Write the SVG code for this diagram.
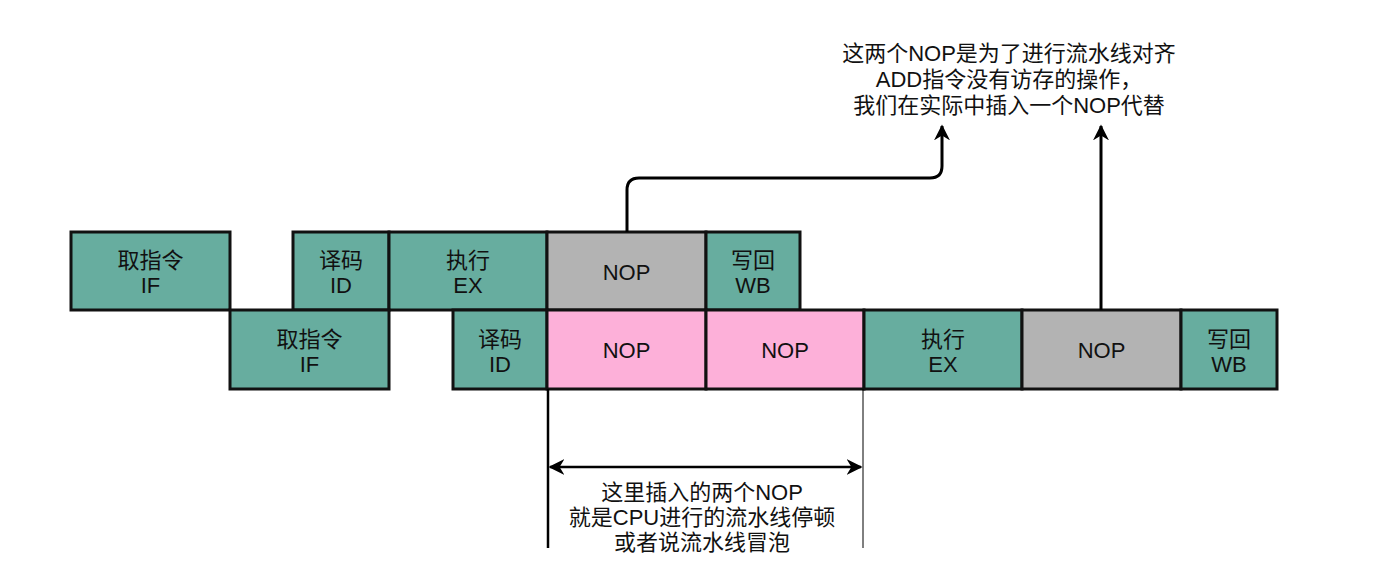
<svg xmlns="http://www.w3.org/2000/svg" width="1376" height="580" viewBox="0 0 1376 580">
<defs>
<marker id="ah2" viewBox="0 0 10 10" refX="9" refY="5" markerWidth="16" markerHeight="16" markerUnits="userSpaceOnUse" orient="auto-start-reverse"><path d="M0,0 L10,5 L0,10 L3,5 z" fill="#000"/></marker>
</defs>
<style>
.b{stroke:#111;stroke-width:3}
.t{fill:#67ad9f}
.g{fill:#b3b3b3}
.p{fill:#fdb0d9}
text{font-family:"Liberation Sans","Noto Sans CJK SC",sans-serif;font-size:22px;fill:#111;text-anchor:middle}
.c{fill:none;stroke:#000;stroke-width:3}
</style>
<rect width="1376" height="580" fill="#fff"/>
<g id="r1-if"><rect class="b t" x="71" y="232" width="159" height="78"/><text x="150.5" y="268">取指令</text><text x="150.5" y="293">IF</text></g>
<g id="r1-id"><rect class="b t" x="293" y="232" width="96" height="78"/><text x="341" y="268">译码</text><text x="341" y="293">ID</text></g>
<g id="r1-ex"><rect class="b t" x="389" y="232" width="158" height="78"/><text x="468" y="268">执行</text><text x="468" y="293">EX</text></g>
<g id="r1-nop"><rect class="b g" x="547" y="232" width="159" height="78"/><text x="626.5" y="280">NOP</text></g>
<g id="r1-wb"><rect class="b t" x="706" y="232" width="94" height="78"/><text x="753" y="268">写回</text><text x="753" y="293">WB</text></g>
<g id="r2-if"><rect class="b t" x="230" y="310" width="159" height="79"/><text x="309.5" y="347">取指令</text><text x="309.5" y="372">IF</text></g>
<g id="r2-id"><rect class="b t" x="453" y="310" width="94" height="79"/><text x="500" y="347">译码</text><text x="500" y="372">ID</text></g>
<g id="r2-nop1"><rect class="b p" x="547" y="310" width="159" height="79"/><text x="626.5" y="358">NOP</text></g>
<g id="r2-nop2"><rect class="b p" x="706" y="310" width="158" height="79"/><text x="785" y="358">NOP</text></g>
<g id="r2-ex"><rect class="b t" x="864" y="310" width="158" height="79"/><text x="943" y="347">执行</text><text x="943" y="372">EX</text></g>
<g id="r2-nop3"><rect class="b g" x="1022" y="310" width="159" height="79"/><text x="1101.5" y="358">NOP</text></g>
<g id="r2-wb"><rect class="b t" x="1181" y="310" width="96" height="79"/><text x="1229" y="347">写回</text><text x="1229" y="372">WB</text></g>
<g id="connectors">
<path class="c" d="M627,232 V190 Q627,178 639,178 H930 Q942,178 942,166 V126" marker-end="url(#ah2)"/>
<path class="c" d="M1101,310 V126" marker-end="url(#ah2)"/>
<line x1="548" y1="389" x2="548" y2="548" stroke="#000" stroke-width="2.5"/>
<line x1="863" y1="389" x2="863" y2="548" stroke="#000" stroke-width="1"/>
<line x1="550" y1="467" x2="861" y2="467" stroke="#000" stroke-width="2.5" marker-start="url(#ah2)" marker-end="url(#ah2)"/>
</g>
<g id="note-top">
<text x="1009" y="61">这两个NOP是为了进行流水线对齐</text>
<text x="1009" y="87">ADD指令没有访存的操作，</text>
<text x="1009" y="113">我们在实际中插入一个NOP代替</text>
</g>
<g id="note-bottom">
<text x="702" y="500">这里插入的两个NOP</text>
<text x="702" y="525">就是CPU进行的流水线停顿</text>
<text x="702" y="550">或者说流水线冒泡</text>
</g>
</svg>
